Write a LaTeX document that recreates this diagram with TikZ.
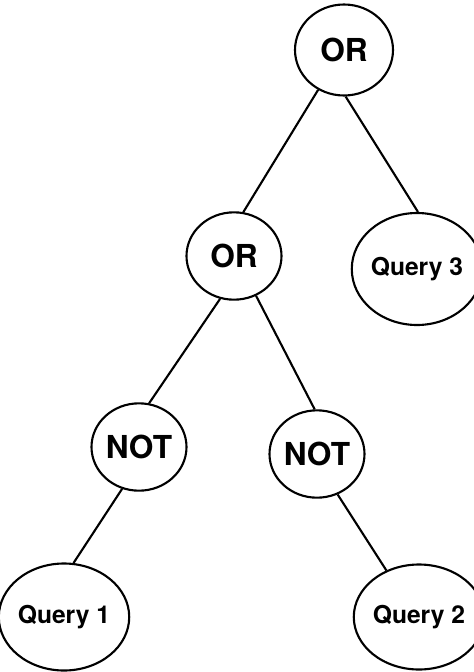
\documentclass[tikz,border=0pt]{standalone}
\usepackage{fontspec}
\setmainfont{TeX Gyre Heros}
\usetikzlibrary{shapes.geometric}

\begin{document}
\begin{tikzpicture}[x=0.03cm, y=-0.03cm,
                    line width=1.8pt,
                    Gate/.style={draw, ellipse, inner sep=0pt, minimum width=2.85cm, minimum height=2.62cm, font=\fontsize{27}{32}\selectfont\bfseries},
                    Query/.style={draw, ellipse, inner sep=0pt, minimum width=3.3cm, minimum height=3.2cm, font=\fontsize{21}{25}\selectfont\bfseries},
                    branch/.style={line width=1.8pt}
                    ]
    \useasboundingbox (0,0) rectangle (473,672);

    % OPERATORS %
    \node[Gate, minimum width=2.94cm, minimum height=2.73cm] (Or0) at (344,50) {OR};
    \node[Gate] (Or1) at (234,256) {OR};
    \node[Gate] (Not1) at (139,447) {NOT};
    \node[Gate] (Not2) at (317,454) {NOT};

    % QUERIES %
    \node[Query, minimum width=3.36cm, minimum height=3.21cm] (Q1) at (64,617) {Query 1};
    \node[Query, minimum width=3.24cm, minimum height=3.15cm] (Q2) at (419,617) {Query 2};
    \node[Query, minimum width=3.33cm, minimum height=3.36cm] (Q3) at (417,269) {Query 3};

    % BRANCHES %
    \foreach \a/\b in {Or0.237/Or1.78, Or0.272/Q3.89, Or1.252/Not1.77,
                       Or1.299/Not2.93, Not1.248/Q1.80, Not2.297/Q2.125}
    \draw[branch] (\a) -- (\b);

\end{tikzpicture}
\end{document}
